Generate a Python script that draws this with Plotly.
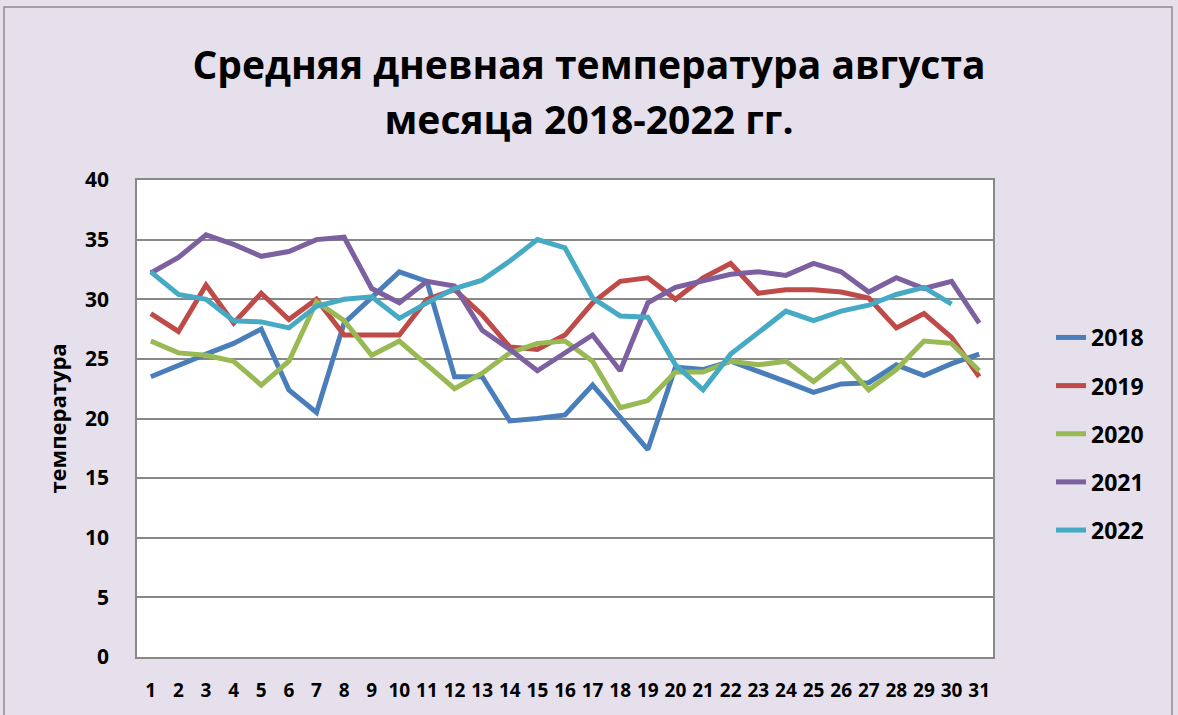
import plotly.graph_objects as go

days = list(range(1, 32))
years = ["2018", "2019", "2020", "2021", "2022"]

t2018 = [23.5, 24.5, 25.4, 26.3, 27.5, 22.4, 20.5, 28.0, 30.1, 32.3, 31.5, 23.5, 23.5, 19.8, 20.0, 20.3,
         22.8, 20.1, 17.4, 24.3, 24.1, 24.8, 24.0, 23.1, 22.2, 22.9, 23.0, 24.5, 23.6, 24.6, 25.4]
t2019 = [28.8, 27.3, 31.2, 28.0, 30.5, 28.3, 30.0, 27.0, 27.0, 27.0, 30.0, 30.8, 28.7, 26.0, 25.8, 27.0,
         29.7, 31.5, 31.8, 30.0, 31.8, 33.0, 30.5, 30.8, 30.8, 30.6, 30.1, 27.6, 28.8, 26.8, 23.5]
t2020 = [26.5, 25.5, 25.3, 24.8, 22.8, 24.8, 29.8, 28.2, 25.3, 26.5, 24.5, 22.5, 23.8, 25.5, 26.3, 26.5,
         24.8, 20.9, 21.5, 23.9, 23.9, 24.8, 24.5, 24.8, 23.1, 24.9, 22.4, 24.1, 26.5, 26.3, 24.0]
t2021 = [32.2, 33.5, 35.4, 34.6, 33.6, 34.0, 35.0, 35.2, 30.9, 29.7, 31.5, 31.1, 27.4, 25.8, 24.0, 25.5,
         27.0, 24.0, 29.7, 31.0, 31.5, 32.1, 32.3, 32.0, 33.0, 32.3, 30.6, 31.8, 30.9, 31.5, 28.0]
t2022 = [32.3, 30.4, 30.0, 28.2, 28.1, 27.6, 29.4, 30.0, 30.2, 28.4, 29.7, 30.9, 31.6, 33.2, 35.0, 34.3,
         30.1, 28.6, 28.5, 24.5, 22.4, 25.4, 27.2, 29.0, 28.2, 29.0, 29.5, 30.4, 31.0, 29.6, None]

series = [t2018, t2019, t2020, t2021, t2022]
colors = ["#4A7EBB", "#BE4B48", "#98B954", "#7D60A0", "#46AAC5"]

title_lines = ["Средняя дневная температура августа", "месяца 2018-2022 гг."]
y_title = "температура"
y_ticks = [0, 5, 10, 15, 20, 25, 30, 35, 40]

FONT = "Open Sans"

fig = go.Figure()
for name, vals, col in zip(years, series, colors):
    fig.add_trace(go.Scatter(
        x=days, y=vals, name=name, mode="lines",
        line=dict(color=col, width=5), legendgroup=name,
        connectgaps=False,
    ))

L, R, T, B = 137, 185, 180, 58
W, H = 1178, 715
pw, ph = W - L - R, H - T - B

title_html = "<br>".join("<span style='font-size:39px'><b>%s</b></span>" % s for s in title_lines)

fig.update_layout(
    width=W, height=H,
    margin=dict(l=L, r=R, t=T, b=B, autoexpand=False),
    paper_bgcolor="#E5E0EC",
    plot_bgcolor="#FFFFFF",
    title=dict(text=title_html, x=0.5, xanchor="center",
               y=1 - 79 / H, yanchor="middle",
               font=dict(family=FONT, size=42, color="#000000")),
    font=dict(family=FONT, color="#000000"),
    showlegend=True,
    legend=dict(x=(1051 - L) / pw, xanchor="left", y=(657 - 316) / ph, yanchor="top",
                font=dict(family=FONT, size=23, color="#000000", weight="bold"),
                tracegroupgap=15.25, bgcolor="rgba(0,0,0,0)", itemwidth=30),
    shapes=[dict(type="rect", xref="paper", yref="paper",
                 x0=(4 - L) / pw, x1=(1172 - L) / pw,
                 y0=(657 - 730) / ph, y1=(657 - 7) / ph,
                 line=dict(color="#8C8C8C", width=1.5), fillcolor="rgba(0,0,0,0)", layer="below")],
)

fig.update_xaxes(
    range=[0.5, 31.5], tickmode="array", tickvals=days, ticktext=[str(d) for d in days],
    showgrid=False, showline=True, linecolor="#888888", linewidth=1.5, mirror=True,
    ticks="", ticklabelstandoff=15, automargin=False,
    tickfont=dict(family=FONT, size=19, color="#000000", weight="bold"),
    zeroline=False,
)
fig.update_yaxes(
    range=[0, 40], tickmode="array", tickvals=y_ticks,
    showgrid=True, gridcolor="#888888", gridwidth=1.5,
    showline=True, linecolor="#888888", linewidth=1.5, mirror=True,
    ticks="", ticklabelstandoff=22, automargin=False,
    tickfont=dict(family=FONT, size=21, color="#000000", weight="bold"),
    title=dict(text="<b>" + y_title + "</b>", standoff=12,
               font=dict(family=FONT, size=22, color="#000000")),
    zeroline=False,
)

fig.write_html("out.html",
               config={"displayModeBar": False},
               post_script="document.body.style.margin='0';document.body.style.overflow='hidden';")
